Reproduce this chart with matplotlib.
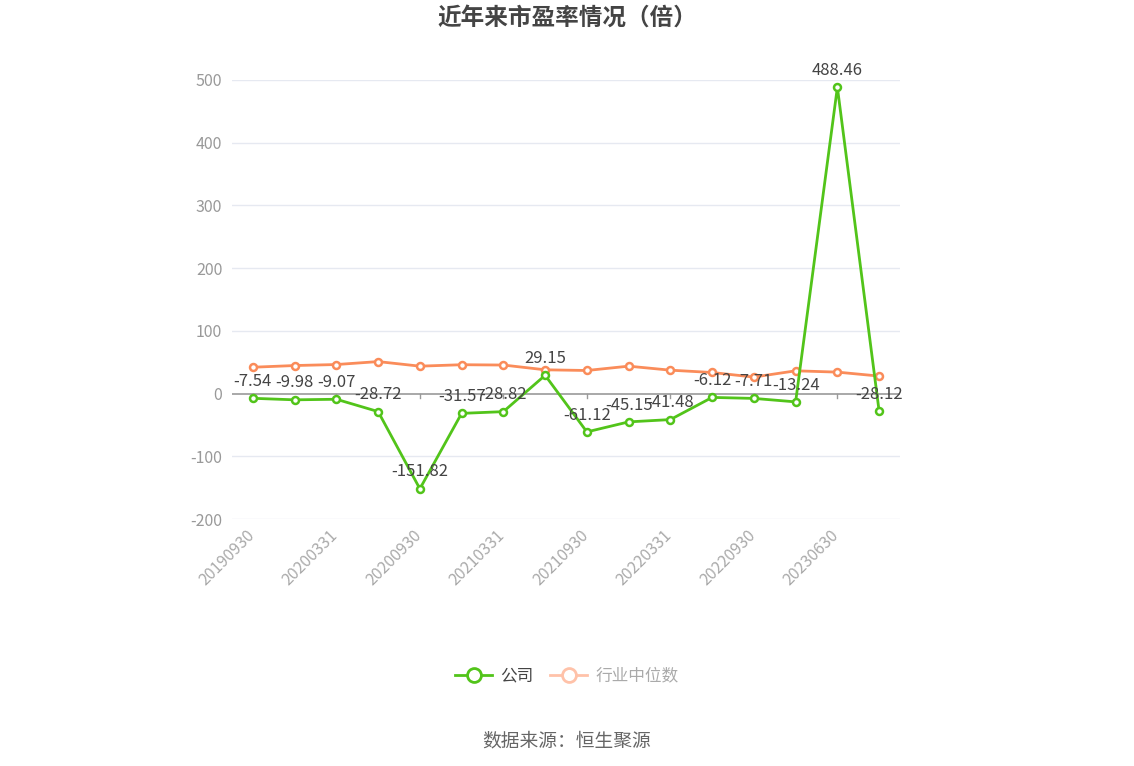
import matplotlib
matplotlib.use("Agg")
import matplotlib.pyplot as plt
import matplotlib.transforms as mtransforms
from matplotlib.lines import Line2D

plt.rcParams['font.family'] = ['Noto Sans CJK SC', 'DejaVu Sans']

dates = ["20190930", "20191231", "20200331", "20200630", "20200930", "20201231",
         "20210331", "20210630", "20210930", "20211231", "20220331", "20220630",
         "20220930", "20230331", "20230630", "20230930"]
company = [-7.54, -9.98, -9.07, -28.72, -151.82, -31.57, -28.82, 29.15,
           -61.12, -45.15, -41.48, -6.12, -7.71, -13.24, 488.46, -28.12]
industry = [42.0, 44.7, 46.3, 51.0, 43.7, 46.0, 45.5, 37.9,
            36.8, 43.7, 37.3, 33.6, 26.3, 36.3, 34.2, 27.9]
yticks = [-200, -100, 0, 100, 200, 300, 400, 500]

green = '#52c41a'
orange = '#fa8c5a'

fig = plt.figure(figsize=(11.34, 7.66), dpi=100)
ax = fig.add_axes([232/1134, 1-519/766, (900-232)/1134, (519-80)/766])

x = list(range(len(dates)))
ax.plot(x, industry, color=orange, lw=2, marker='o', ms=5, mfc='white',
        mec=orange, mew=1.8, zorder=3)
ax.plot(x, company, color=green, lw=2, marker='o', ms=5, mfc='white',
        mec=green, mew=1.8, zorder=4)

for xi, v in zip(x, company):
    ax.annotate(f"{v:.2f}", (xi, v), xytext=(0, 6), textcoords='offset points',
                ha='center', va='bottom', fontsize=12, color='#444', zorder=5)

ax.set_xlim(-0.5, len(dates) - 0.5)
ax.set_ylim(-200, 500)
ax.set_yticks(yticks)
ax.set_yticklabels([str(t) for t in yticks], color='#999', fontsize=11.5)
ax.tick_params(axis='y', length=0, pad=7)
for t in yticks:
    if t != 0:
        ax.axhline(t, color='#e6e9f1', lw=1, zorder=1)
ax.axhline(0, color='#9a9a9a', lw=1.2, zorder=2)

ax.set_xticks(x[::2])
ax.set_xticklabels(dates[::2], rotation=45, ha='right', rotation_mode='anchor',
                   color='#aaa', fontsize=11.5)
ax.tick_params(axis='x', length=0, pad=8)
shift = mtransforms.ScaledTranslation(-7/100, 3/100, fig.dpi_scale_trans)
for lbl in ax.get_xticklabels():
    lbl.set_transform(lbl.get_transform() + shift)
for xi in x[::2]:
    ax.plot([xi, xi], [0, -7], color='#9a9a9a', lw=1, zorder=2)

for s in ax.spines.values():
    s.set_visible(False)

fig.text(0.5, 1-18/766, "近年来市盈率情况（倍）", ha='center', va='center',
         fontsize=17, fontweight='bold', color='#444')

h1 = Line2D([], [], color=green, lw=2, marker='o', ms=10, mfc='white', mec=green, mew=2)
h2 = Line2D([], [], color='#ffc2a9', lw=2, marker='o', ms=10, mfc='white', mec='#ffc2a9', mew=2)
leg = fig.legend([h1, h2], ["公司", "行业中位数"], loc='center',
                 bbox_to_anchor=(0.5, 1-676/766), ncol=2, frameon=False,
                 fontsize=12, handlelength=2.2, columnspacing=1.0, handletextpad=0.5)
leg.get_texts()[0].set_color('#444')
leg.get_texts()[1].set_color('#aaa')

fig.text(0.5, 1-741/766, "数据来源：恒生聚源", ha='center', va='center',
         fontsize=13.5, color='#666')

fig.savefig("out.png", dpi=100)
